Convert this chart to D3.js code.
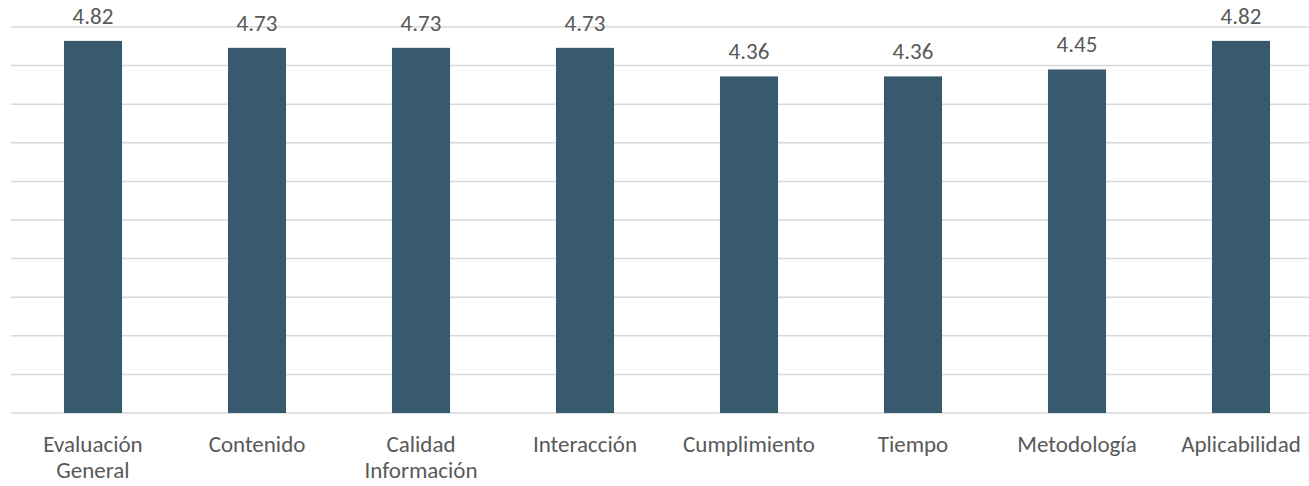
<!DOCTYPE html>
<html>
<head>
<meta charset="utf-8">
<script src="https://cdn.jsdelivr.net/npm/d3@7"></script>
<style>
  html, body { margin: 0; padding: 0; background: #ffffff; }
  svg { display: block; }
  text { font-family: Calibri, Carlito, Lato, "Open Sans", sans-serif; fill: #595959; }
</style>
</head>
<body>
<svg id="chart" width="1309" height="486"></svg>
<script>
const categories = ["Evaluación General", "Contenido", "Calidad Información", "Interacción", "Cumplimiento", "Tiempo", "Metodología", "Aplicabilidad"];
const values = [4.82, 4.73, 4.73, 4.73, 4.36, 4.36, 4.45, 4.82];
const yTicks = [0, 0.5, 1, 1.5, 2, 2.5, 3, 3.5, 4, 4.5, 5];

const W = 1309, H = 486;
const svg = d3.select("#chart");

const x = d3.scaleBand().domain(categories).range([11, 1323]).paddingInner(0.646).paddingOuter(0.323);
const y = d3.scaleLinear().domain([0, 5]).range([413, 27]);

// gridlines
svg.append("g").selectAll("line").data(yTicks).join("line")
  .attr("x1", 11).attr("x2", W)
  .attr("y1", d => y(d)).attr("y2", d => y(d))
  .attr("stroke", "#d9d9d9").attr("stroke-width", 1.5);

// bars
svg.append("g").selectAll("rect").data(values).join("rect")
  .attr("x", (d, i) => x(categories[i]))
  .attr("y", d => y(d))
  .attr("width", x.bandwidth())
  .attr("height", d => y(0) - y(d))
  .attr("fill", "#375a6f");

// value labels
svg.append("g").selectAll("text").data(values).join("text")
  .attr("x", (d, i) => x(categories[i]) + x.bandwidth() / 2)
  .attr("y", d => y(d) - 17)
  .attr("text-anchor", "middle")
  .style("font-size", "23px")
  .text(d => d.toFixed(2));

// category labels
const catG = svg.append("g");
categories.forEach((c, i) => {
  const cx = x(c) + x.bandwidth() / 2;
  const t = catG.append("text")
    .attr("x", cx).attr("y", 452)
    .attr("text-anchor", "middle")
    .style("font-size", "23px")
    .text(c);
  if (t.node().getComputedTextLength() > x.step() * 0.95 && c.includes(" ")) {
    t.text(null);
    c.split(" ").forEach((w, k) => {
      t.append("tspan").attr("x", cx).attr("y", 452 + k * 26).text(w);
    });
  }
});
</script>
</body>
</html>
